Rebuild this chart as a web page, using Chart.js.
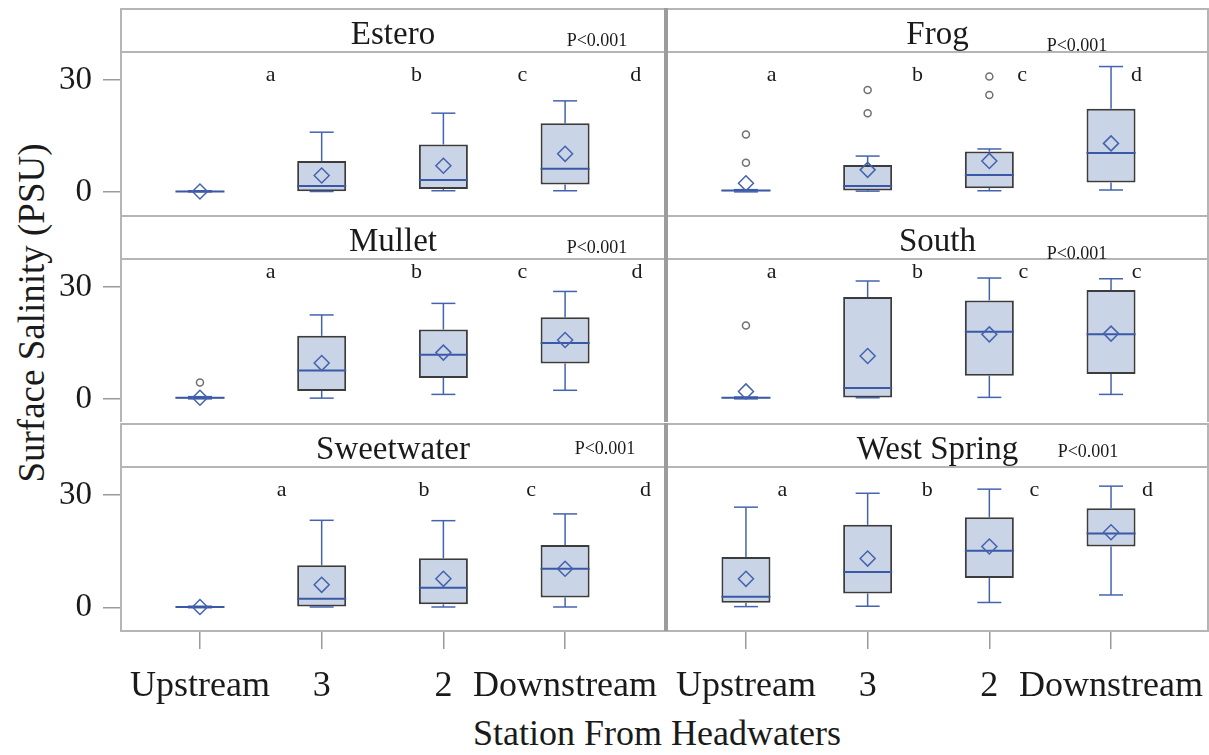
<!DOCTYPE html>
<html>
<head>
<meta charset="utf-8">
<title>Surface salinity by station</title>
<script src="https://cdn.jsdelivr.net/npm/chart.js@4.4.0/dist/chart.umd.min.js"></script>
<style>
  html, body { margin: 0; padding: 0; background: #fff; }
  #wrap { position: relative; width: 1209px; height: 755px; overflow: hidden; font-family: "Liberation Serif", serif; color: #1a1a1a; }
  #ytitle { position: absolute; left: 31px; top: 313px; transform: translate(-50%, -50%) rotate(-90deg); font-size: 37px; line-height: 37px; white-space: nowrap; }
  #xtitle { position: absolute; left: 657px; top: 715px; transform: translateX(-50%); font-size: 36px; line-height: 36px; white-space: nowrap; }
</style>
</head>
<body>
<div id="wrap">
  <div id="ytitle">Surface Salinity (PSU)</div>
  <div id="xtitle">Station From Headwaters</div>
</div>
<script>
const stations = ["Upstream", "3", "2", "Downstream"]
const streams = ["Estero", "Frog", "Mullet", "South", "Sweetwater", "West Spring"]
const yTicks = [0, 30]
const pLabels = ["P<0.001", "P<0.001", "P<0.001", "P<0.001", "P<0.001", "P<0.001"]

// one row per stream, one value per station
const whiskerLow = [
  [0, 0.1, 0.3, 0.3],
  [0, 0.2, 0.3, 0.5],
  [0, 0.2, 1.2, 2.3],
  [0, 0.3, 0.4, 1.2],
  [0, 0.2, 0.2, 0.2],
  [0.3, 0.4, 1.4, 3.4],
]
const quartile1 = [
  [0, 0.2, 0.8, 2.0],
  [0.2, 0.4, 1.0, 2.5],
  [0.1, 2.1, 5.6, 9.5],
  [0.2, 0.4, 6.2, 6.7],
  [0.1, 0.3, 0.9, 2.7],
  [1.3, 3.8, 7.9, 16.3],
]
const medians = [
  [0.1, 1.6, 3.2, 6.2],
  [0.4, 1.6, 4.5, 10.4],
  [0.3, 7.6, 11.8, 15.0],
  [0.3, 2.9, 18.0, 17.3],
  [0.2, 2.4, 5.3, 10.4],
  [2.9, 9.5, 15.2, 19.8],
]
const quartile3 = [
  [0.3, 8.3, 12.7, 18.4],
  [0.5, 7.2, 10.8, 22.3],
  [0.5, 16.9, 18.6, 21.9],
  [0.4, 27.3, 26.4, 29.2],
  [0.3, 11.3, 13.2, 16.7],
  [13.5, 22.1, 24.1, 26.5],
]
const whiskerHigh = [
  [0.3, 16.0, 21.1, 24.4],
  [0.6, 9.6, 11.5, 33.6],
  [0.6, 22.5, 25.6, 28.8],
  [0.5, 31.6, 32.4, 32.2],
  [0.4, 23.3, 23.2, 25.0],
  [26.8, 30.5, 31.6, 32.4],
]
const means = [
  [0.1, 4.4, 7.0, 10.2],
  [2.3, 5.9, 8.3, 13.0],
  [0.3, 9.6, 12.4, 15.8],
  [2.0, 11.5, 17.3, 17.5],
  [0.2, 6.1, 7.7, 10.4],
  [7.7, 13.1, 16.3, 20.1],
]
const outliers = [
  [[], [], [], []],
  [[7.8, 15.4], [21.1, 27.3], [26.0, 30.9], []],
  [[4.4], [], [], []],
  [[19.7], [], [], []],
  [[], [], [], []],
  [[], [], [], []],
]
const letters = [
  ["a", "b", "c", "d"],
  ["a", "b", "c", "d"],
  ["a", "b", "c", "d"],
  ["a", "b", "c", "c"],
  ["a", "b", "c", "d"],
  ["a", "b", "c", "d"],
]

// layout
const ROW_TOP = [8, 215, 423]
const COL_LEFT = [0, 666]
const COL_W = [666, 543]
const HEADER = 44
const PLOT_H = [163, 163, 164]
const Y_AXIS_W = 120
const X_AXIS_H = 123
const X_MIN = 0.343
const X_MAX = [4.829, 4.805]
const Y_MIN = -6.2, Y_MAX = 37.5
// where the group letters sit (station units) and their baseline (PSU)
const letterX = [
  [1.58, 2.78, 3.65, 4.58],
  [1.21, 2.41, 3.27, 4.21],
  [1.58, 2.78, 3.65, 4.59],
  [1.21, 2.41, 3.28, 4.21],
  [1.67, 2.84, 3.72, 4.66],
  [1.30, 2.49, 3.37, 4.30],
]
const letterBase = [29.7, 29.7, 32.4, 32.4, 29.7, 29.7]
// p label: offset from panel right, baseline below header top
const pPos = [[-69, 38], [-132, 43], [-69, 38], [-132, 44], [-61, 31], [-121, 34]]

const BOX_FILL = "#c9d4e6"
const BOX_EDGE = "#3c3c3c"
const BLUE = "#4463ae"
const MEDIAN = "#3a58a6"
const FRAME = "#b5b5b5"
const TEXT = "#1a1a1a"
const FONT = "Liberation Serif"

const panelDecor = {
  id: "panelDecor",
  afterDraw(chart, args, o) {
    const { ctx, chartArea: a, scales } = chart
    const top = a.top - HEADER
    ctx.save()
    ctx.strokeStyle = FRAME
    ctx.lineWidth = 2
    ctx.beginPath()
    ctx.moveTo(a.left, top + 1); ctx.lineTo(a.right, top + 1)
    ctx.moveTo(a.left, a.top); ctx.lineTo(a.right, a.top)
    if (o.last) { ctx.moveTo(a.left, a.bottom); ctx.lineTo(a.right, a.bottom) }
    ctx.stroke()
    ctx.beginPath()
    ctx.strokeStyle = o.leftCol ? FRAME : "#9c9c9c"
    ctx.moveTo(a.left + 1, top); ctx.lineTo(a.left + 1, a.bottom)
    ctx.stroke()
    ctx.beginPath()
    ctx.strokeStyle = o.leftCol ? "#9c9c9c" : FRAME
    ctx.moveTo(a.right - 1, top); ctx.lineTo(a.right - 1, a.bottom)
    ctx.stroke()

    ctx.fillStyle = TEXT
    ctx.textAlign = "center"
    ctx.textBaseline = "alphabetic"
    ctx.font = `33px "${FONT}"`
    ctx.fillText(o.title, (a.left + a.right) / 2, top + 36)
    ctx.font = `18px "${FONT}"`
    ctx.fillText(o.p, a.right + o.pPos[0], top + o.pPos[1])
    ctx.font = `22px "${FONT}"`
    o.letters.forEach((t, i) => {
      ctx.fillText(t, scales.x.getPixelForValue(o.letterX[i]), scales.y.getPixelForValue(o.letterBase))
    })
    ctx.restore()
  }
}

const wrap = document.getElementById("wrap")

function buildPanel(k) {
  const row = Math.floor(k / 2)
  const col = k % 2
  const isLeft = col === 0
  const isBottom = row === 2
  const w = COL_W[col]
  const h = HEADER + PLOT_H[row] + (isBottom ? X_AXIS_H : 0)

  const canvas = document.createElement("canvas")
  canvas.width = w
  canvas.height = h
  canvas.style.cssText = `position:absolute;left:${COL_LEFT[col]}px;top:${ROW_TOP[row]}px;width:${w}px;height:${h}px`
  wrap.appendChild(canvas)

  const asPoints = arr => arr.map((v, i) => ({ x: i + 1, y: v }))
  const asRange = (lo, hi) => lo.map((v, i) => ({ x: i + 1, y: [v, hi[i]] }))
  const outPts = []
  outliers[k].forEach((list, i) => list.forEach(v => outPts.push({ x: i + 1, y: v })))

  new Chart(canvas, {
    type: "scatter",
    data: {
      datasets: [
        {
          type: "bar", data: asRange(quartile3[k], whiskerHigh[k]),
          backgroundColor: BLUE, borderWidth: 0, grouped: false, maxBarThickness: 1.5, order: 6,
        },
        {
          type: "bar", data: asRange(whiskerLow[k], quartile1[k]),
          backgroundColor: BLUE, borderWidth: 0, grouped: false, maxBarThickness: 1.5, order: 5,
        },
        {
          type: "bar", data: asRange(quartile1[k], quartile3[k]),
          backgroundColor: BOX_FILL, borderColor: BOX_EDGE, borderWidth: 2, borderSkipped: false,
          grouped: false, maxBarThickness: 49, order: 4,
        },
        {
          data: asPoints(whiskerHigh[k]).concat(asPoints(whiskerLow[k])),
          pointStyle: "line", pointRadius: 12, borderColor: BLUE, borderWidth: 1.5, order: 3,
        },
        {
          data: asPoints(medians[k]),
          pointStyle: "line", pointRadius: 24.5, borderColor: MEDIAN, borderWidth: 2, order: 2,
        },
        {
          data: asPoints(means[k]),
          pointStyle: "rectRot", pointRadius: 7.5, borderColor: BLUE, backgroundColor: "rgba(0,0,0,0)",
          borderWidth: 1.5, order: 1,
        },
        {
          data: outPts,
          pointStyle: "circle", pointRadius: 3.5, borderColor: "#707070", backgroundColor: "#fff",
          borderWidth: 1.5, order: 0,
        },
      ],
    },
    options: {
      responsive: false,
      animation: false,
      events: [],
      layout: { autoPadding: false, padding: { top: HEADER, left: 0, right: 0, bottom: 0 } },
      plugins: {
        legend: { display: false },
        tooltip: { enabled: false },
        panelDecor: {
          title: streams[k], p: pLabels[k], pPos: pPos[k], letters: letters[k],
          letterX: letterX[k], letterBase: letterBase[k], last: isBottom, leftCol: isLeft,
        },
      },
      scales: {
        x: {
          type: "linear",
          display: isBottom,
          min: X_MIN,
          max: X_MAX[col],
          offset: false,
          afterBuildTicks: s => { s.ticks = stations.map((_, i) => ({ value: i + 1 })) },
          afterFit: s => {
            s.height = isBottom ? X_AXIS_H : 0
            s.paddingLeft = 0
            s.paddingRight = 0
          },
          grid: { drawOnChartArea: false, offset: false, tickLength: 18, color: "#9a9a9a", lineWidth: 1.5 },
          border: { display: false },
          ticks: {
            autoSkip: false, maxRotation: 0, padding: 16, color: TEXT,
            font: { family: FONT, size: 36 },
            callback: v => stations[v - 1],
          },
        },
        y: {
          type: "linear",
          display: isLeft,
          min: Y_MIN,
          max: Y_MAX,
          afterBuildTicks: s => { s.ticks = yTicks.map(v => ({ value: v })) },
          afterFit: s => {
            s.width = isLeft ? Y_AXIS_W : 0
            s.paddingTop = 0
            s.paddingBottom = 0
          },
          grid: { drawOnChartArea: false, tickLength: 17, color: "#9a9a9a", lineWidth: 1.5 },
          border: { display: false },
          ticks: { padding: 11, color: TEXT, font: { family: FONT, size: 33 } },
        },
      },
    },
    plugins: [panelDecor],
  })
}

streams.forEach((_, k) => buildPanel(k))
</script>
</body>
</html>
